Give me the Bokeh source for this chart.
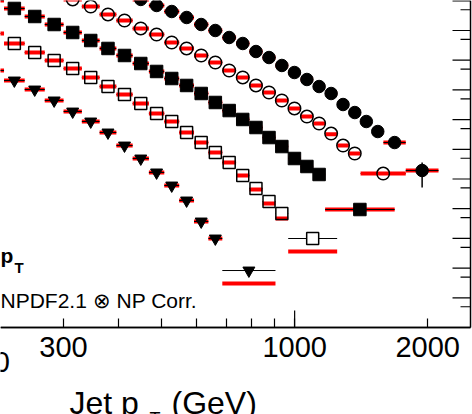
import numpy as np
from bokeh.plotting import figure
from bokeh.models import FixedTicker, ColumnDataSource, Range1d
from bokeh.core.properties import value
from bokeh.embed import file_html
from bokeh.resources import INLINE

FONT = "Liberation Sans"

# ---------------- data: jet pT bins (GeV) and scaled spectra ----------------
# filled circles
circ_lo = [430, 468, 507, 548, 592, 638, 686, 737, 790, 846, 905, 967, 1032, 1101, 1172, 1248, 1327, 1410, 1497, 1588, 1784]
circ_hi = [468, 507, 548, 592, 638, 686, 737, 790, 846, 905, 967, 1032, 1101, 1172, 1248, 1327, 1410, 1497, 1588, 1784, 2116]
circ_y = [1.11e4, 6.95e3, 4.36e3, 2.74e3, 1.59e3, 1.00e3, 581, 365, 196, 123, 66.4, 38.5, 22.4, 13.0, 7.56, 3.22, 1.73, 0.863, 0.397, 0.169, 0.0193]
circ_th = [1.11e4, 6.95e3, 4.36e3, 2.74e3, 1.59e3, 1.00e3, 581, 365, 196, 123, 66.4, 38.5, 22.4, 13.0, 7.56, 3.22, 1.73, 0.863, 0.397, 0.169, 0.0193]
circ_err_lo = [0.00518]
circ_err_hi = [0.0360]

# open circles
ocirc_lo = [300, 330, 362, 395, 430, 468, 507, 548, 592, 638, 686, 737, 790, 846, 905, 967, 1032, 1101, 1172, 1248, 1327, 1410]
ocirc_hi = [330, 362, 395, 430, 468, 507, 548, 592, 638, 686, 737, 790, 846, 905, 967, 1032, 1101, 1172, 1248, 1327, 1410, 1784]
ocirc_y = [1.11e4, 6.43e3, 3.46e3, 2.17e3, 1.17e3, 733, 394, 248, 144, 83.7, 45.0, 26.2, 14.1, 8.17, 4.40, 2.37, 1.27, 0.740, 0.340, 0.134, 0.0723, 0.0153]
ocirc_th = [1.11e4, 6.43e3, 3.46e3, 2.17e3, 1.17e3, 733, 394, 248, 144, 83.7, 45.0, 26.2, 14.1, 8.17, 4.40, 2.37, 1.27, 0.740, 0.320, 0.134, 0.0723, 0.0153]

# filled squares
sq_lo = [196, 220, 245, 272, 300, 330, 362, 395, 430, 468, 507, 548, 592, 638, 686, 737, 790, 846, 905, 967, 1032, 1101, 1172]
sq_hi = [220, 245, 272, 300, 330, 362, 395, 430, 468, 507, 548, 592, 638, 686, 737, 790, 846, 905, 967, 1032, 1101, 1172, 1684]
sq_y = [1.02e4, 5.51e3, 2.96e3, 1.59e3, 857, 460, 248, 144, 77.4, 41.7, 24.2, 14.1, 7.57, 3.77, 2.02, 1.01, 0.542, 0.249, 0.124, 0.0490, 0.0264, 0.0142, 0.000940]
sq_th = [1.02e4, 5.51e3, 2.96e3, 1.59e3, 857, 460, 248, 144, 77.4, 41.7, 24.2, 14.1, 7.57, 3.77, 2.02, 1.01, 0.542, 0.249, 0.124, 0.0490, 0.0264, 0.0142, 0.000940]

# open squares
osq_lo = [196, 220, 245, 272, 300, 330, 362, 395, 430, 468, 507, 548, 592, 638, 686, 737, 790, 846, 905, 967]
osq_hi = [220, 245, 272, 300, 330, 362, 395, 430, 468, 507, 548, 592, 638, 686, 737, 790, 846, 905, 967, 1248]
osq_y = [793, 365, 182, 97.7, 52.6, 26.2, 13.0, 7.00, 3.48, 1.60, 0.863, 0.368, 0.169, 0.0780, 0.0360, 0.0131, 0.00479, 0.00175, 0.000689, 9.93e-5]
osq_th = [793, 365, 182, 97.7, 52.6, 26.2, 13.0, 7.00, 3.48, 1.60, 0.863, 0.368, 0.169, 0.0780, 0.0360, 0.0131, 0.00440, 0.00150, 0.000468, 3.62e-5]

# filled inverted triangles
tri_lo = [196, 220, 245, 272, 300, 330, 362, 395, 430, 468, 507, 548, 592, 638, 686]
tri_hi = [220, 245, 272, 300, 330, 362, 395, 430, 468, 507, 548, 592, 638, 686, 905]
tri_y = [45.0, 20.7, 10.3, 4.40, 1.87, 0.863, 0.368, 0.134, 0.0490, 0.0166, 0.00604, 0.00189, 0.000371, 9.93e-5, 8.30e-6]
tri_th = [45.0, 20.7, 10.3, 4.40, 1.87, 0.863, 0.368, 0.134, 0.0490, 0.0166, 0.00604, 0.00189, 0.000371, 9.93e-5, 3.03e-6]

# axis ticks / labels
x_labeled_ticks = [300, 1000, 2000]
x_minor_ticks = [400, 500, 600, 700, 800, 900]
x_long_ticks = [1000]
x_cut_label = 200          # tick label left of the visible range (only its last digit shows)
x_frame_right = 2500       # right edge of the pad
y_axis_bottom = 1e-7
y_major = [1e-6, 1e-5, 1e-4, 1e-3, 1e-2, 1e-1, 1e0, 1e1, 1e2, 1e3, 1e4]
y_minor = [5e-7, 5e-6, 5e-5, 5e-4, 5e-3, 5e-2, 5e-1, 5e0, 5e1, 5e2, 5e3]

series = [
    dict(lo=circ_lo, hi=circ_hi, y=circ_y, th=circ_th, marker="circle", hollow=False, size=12.5),
    dict(lo=ocirc_lo, hi=ocirc_hi, y=ocirc_y, th=ocirc_th, marker="circle", hollow=True, size=12.5),
    dict(lo=sq_lo, hi=sq_hi, y=sq_y, th=sq_th, marker="square", hollow=False, size=12.5),
    dict(lo=osq_lo, hi=osq_hi, y=osq_y, th=osq_th, marker="square", hollow=True, size=12),
    dict(lo=tri_lo, hi=tri_hi, y=tri_y, th=tri_th, marker="inverted_triangle", hollow=False, size=12),
]

W, H = 472, 414
X_LEFT, X_RIGHT = 216, 2526
Y_TOP = 1.023e4
Y_BOT = 1.18e-10
PX_PER_DECADE_Y = H / np.log10(Y_TOP / Y_BOT)
PX_PER_DECADE_X = W / np.log10(X_RIGHT / X_LEFT)


def px_x(v):
    return PX_PER_DECADE_X * np.log10(v / X_LEFT)


def px_y(v):
    return PX_PER_DECADE_Y * np.log10(Y_TOP / v)


p = figure(width=W, height=H, x_axis_type="log", y_axis_type="log",
           x_range=Range1d(X_LEFT, X_RIGHT), y_range=Range1d(Y_BOT, Y_TOP),
           output_backend="svg", toolbar_location=None, y_axis_location=None,
           min_border_left=0, min_border_right=0, min_border_top=0, min_border_bottom=0)
p.outline_line_color = None
p.grid.visible = False

for s in series:
    lo = np.array(s["lo"], dtype=float)
    hi = np.array(s["hi"], dtype=float)
    src = ColumnDataSource(dict(x=np.sqrt(lo * hi), lo=lo, hi=hi,
                                y=np.array(s["y"], dtype=float), th=np.array(s["th"], dtype=float)))
    if not s["hollow"]:
        p.segment(x0="lo", x1="hi", y0="th", y1="th", source=src, line_color="#ff0000", line_width=4)
        p.segment(x0="lo", x1="hi", y0="y", y1="y", source=src, line_color="black", line_width=1)
        p.scatter(x="x", y="y", source=src, marker=s["marker"], size=s["size"],
                  fill_color="black", line_color="black", line_width=1)
    else:
        p.segment(x0="lo", x1="hi", y0="y", y1="y", source=src, line_color="black", line_width=1)
        p.scatter(x="x", y="y", source=src, marker=s["marker"], size=s["size"],
                  fill_color="white", line_color=None)
        p.segment(x0="lo", x1="hi", y0="th", y1="th", source=src, line_color="#ff0000", line_width=4)
        p.scatter(x="x", y="y", source=src, marker=s["marker"], size=s["size"],
                  fill_color=None, line_color="black", line_width=1.5)

# vertical error bar on the last filled-circle point
xl = float(np.sqrt(circ_lo[-1] * circ_hi[-1]))
p.segment(x0=[xl], x1=[xl], y0=circ_err_lo, y1=circ_err_hi, line_color="black", line_width=1.5)

# x axis, drawn at the bottom of the (cropped) pad
xa = p.xaxis[0]
xa.fixed_location = y_axis_bottom
xa.bounds = (X_LEFT, x_frame_right)
xa.ticker = FixedTicker(ticks=x_labeled_ticks, minor_ticks=x_minor_ticks)
xa.major_tick_in = 9
xa.major_tick_out = 0
xa.minor_tick_in = 9
xa.minor_tick_out = 0
xa.axis_line_color = "black"
xa.axis_line_width = 1.5
xa.major_tick_line_color = "black"
xa.major_tick_line_width = 1.2
xa.minor_tick_line_color = "black"
xa.minor_tick_line_width = 1.2
xa.major_label_text_font = FONT
xa.major_label_text_font_size = "29px"
xa.major_label_text_color = "black"
xa.major_label_standoff = 9

# bottom frame line again as a glyph, plus the longer tick at 1000 GeV
p.segment(x0=[X_LEFT], x1=[x_frame_right], y0=[y_axis_bottom], y1=[y_axis_bottom],
          line_color="black", line_width=1.5)
long_len = 10 ** (17 / PX_PER_DECADE_Y)
p.segment(x0=x_long_ticks, x1=x_long_ticks, y0=[y_axis_bottom] * len(x_long_ticks),
          y1=[y_axis_bottom * long_len] * len(x_long_ticks), line_color="black", line_width=1.2)

# right edge of the pad with its inward log ticks (tick labels lie outside the cropped view)
p.segment(x0=[x_frame_right], x1=[x_frame_right], y0=[y_axis_bottom], y1=[Y_TOP],
          line_color="black", line_width=1.5)
maj_x0 = x_frame_right / 10 ** (18 / PX_PER_DECADE_X)
min_x0 = x_frame_right / 10 ** (10 / PX_PER_DECADE_X)
p.segment(x0=[maj_x0] * len(y_major), x1=[x_frame_right] * len(y_major), y0=y_major, y1=y_major,
          line_color="black", line_width=1.2)
p.segment(x0=[min_x0] * len(y_minor), x1=[x_frame_right] * len(y_minor), y0=y_minor, y1=y_minor,
          line_color="black", line_width=1.2)

# ---- texts as text glyphs anchored at a point inside the plot, positioned with pixel offsets ----
ANCHOR_X, ANCHOR_Y = 1000, y_axis_bottom
AX, AY = px_x(ANCHOR_X), px_y(ANCHOR_Y)


def place(txt, X, Y, size, style="normal", align="left"):
    p.text(x=[ANCHOR_X], y=[ANCHOR_Y], text=[txt], x_offset=float(X - AX), y_offset=float(Y - AY),
           text_font=value(FONT), text_font_size=value(size), text_font_style=value(style),
           text_align=value(align), text_baseline=value("alphabetic"), text_color="black")


# partially visible "200" tick label
place(str(x_cut_label), px_x(x_cut_label), 361, "29px", align="center")
# axis title
place("Jet p", 69, 402, "32px")
place("T", 149, 418, "18px")
place("(GeV)", 171, 402, "32px")
# legend fragments
place("p", 0, 255, "21px", style="bold")
place("T", 14, 267, "15px", style="bold")
place("NPDF2.1 \u2297 NP Corr.", 0, 300, "21px")

open("out.html", "w").write(file_html(p, INLINE))
